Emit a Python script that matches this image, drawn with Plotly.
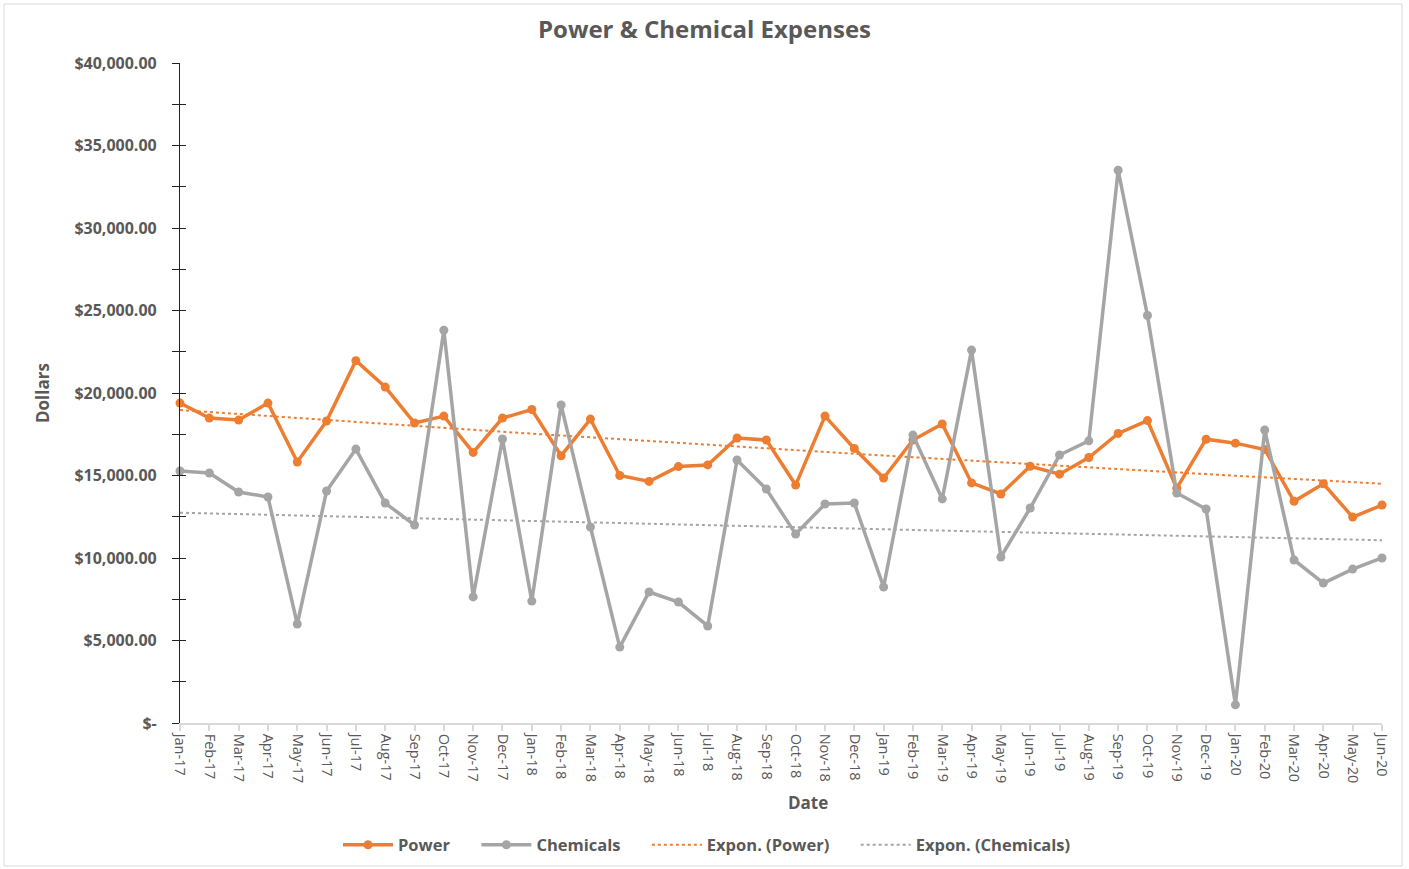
import numpy as np
import plotly.graph_objects as go

# Monthly expense data, Jan-2017 .. Jun-2020
months = [
    "Jan-17", "Feb-17", "Mar-17", "Apr-17", "May-17", "Jun-17", "Jul-17", "Aug-17",
    "Sep-17", "Oct-17", "Nov-17", "Dec-17", "Jan-18", "Feb-18", "Mar-18", "Apr-18",
    "May-18", "Jun-18", "Jul-18", "Aug-18", "Sep-18", "Oct-18", "Nov-18", "Dec-18",
    "Jan-19", "Feb-19", "Mar-19", "Apr-19", "May-19", "Jun-19", "Jul-19", "Aug-19",
    "Sep-19", "Oct-19", "Nov-19", "Dec-19", "Jan-20", "Feb-20", "Mar-20", "Apr-20",
    "May-20", "Jun-20",
]

power = [
    19390, 18480, 18360, 19390, 15820, 18300, 21960, 20360,
    18180, 18600, 16400, 18480, 19000, 16200, 18420, 15000,
    14640, 15540, 15640, 17270, 17150, 14420, 18600, 16640,
    14850, 17150, 18120, 14550, 13880, 15560, 15080, 16090,
    17550, 18330, 14230, 17200, 16960, 16580, 13440, 14500,
    12480, 13210,
]

chemicals = [
    15270, 15150, 14000, 13700, 6000, 14060, 16600, 13330,
    12000, 23800, 7640, 17210, 7390, 19270, 11880, 4600,
    7940, 7330, 5880, 15940, 14180, 11450, 13270, 13330,
    8240, 17450, 13580, 22600, 10060, 13030, 16240, 17100,
    33500, 24700, 13940, 12970, 1100, 17760, 9880, 8480,
    9330, 10000,
]

y_tick_values = [0, 5000, 10000, 15000, 20000, 25000, 30000, 35000, 40000]
y_tick_labels = ["$-", "$5,000.00", "$10,000.00", "$15,000.00", "$20,000.00",
                 "$25,000.00", "$30,000.00", "$35,000.00", "$40,000.00"]

ORANGE = "#ED7D31"
GREY = "#A5A5A5"
TEXT = "#595959"
FONT = "Open Sans"

# Figure / plot-area geometry in pixels
W, H = 1409, 869
L, R, T, B = 180, 1382, 63, 723

# trailing gap after each legend entry label
GAP = "\u00a0" * 5


def px_x(px):
    return (px - L) / (R - L)


def px_y(py):
    return (B - py) / (B - T)


def expon_trend(values):
    """Least-squares exponential trend y = a*exp(b*x), fitted on ln(y)."""
    x = np.arange(1, len(values) + 1)
    b, ln_a = np.polyfit(x, np.log(values), 1)
    return list(np.exp(ln_a) * np.exp(b * x))


power_trend = expon_trend(power)
chem_trend = expon_trend(chemicals)

fig = go.Figure()

fig.add_trace(go.Scatter(
    x=months, y=power, name="Power" + GAP, mode="lines+markers",
    line=dict(color=ORANGE, width=3.5), marker=dict(color=ORANGE, size=9),
    cliponaxis=False,
))
fig.add_trace(go.Scatter(
    x=months, y=chemicals, name="Chemicals" + GAP, mode="lines+markers",
    line=dict(color=GREY, width=3.5), marker=dict(color=GREY, size=9),
    cliponaxis=False,
))
fig.add_trace(go.Scatter(
    x=months, y=power_trend, name="Expon. (Power)" + GAP, mode="lines",
    line=dict(color=ORANGE, width=2, dash="dot"),
))
fig.add_trace(go.Scatter(
    x=months, y=chem_trend, name="Expon. (Chemicals)", mode="lines",
    line=dict(color=GREY, width=2, dash="dot"), yaxis="y2",
))

# Chart border
fig.add_shape(type="rect", xref="paper", yref="paper",
              x0=px_x(4), x1=px_x(1402), y0=px_y(866), y1=px_y(4),
              line=dict(color="#D9D9D9", width=1), layer="below")

fig.update_layout(
    width=W, height=H,
    margin=dict(l=L, r=W - R, t=T, b=H - B, autoexpand=False),
    paper_bgcolor="white", plot_bgcolor="white",
    font=dict(family=FONT, color=TEXT),
    title=dict(text="<b>Power &amp; Chemical Expenses</b>",
               x=0.5, xref="container", xanchor="center",
               y=1 - 30 / H, yref="container", yanchor="middle",
               font=dict(size=24, color=TEXT, family=FONT)),
    xaxis=dict(
        type="category", range=[0, len(months) - 1],
        showgrid=False, zeroline=False,
        showline=True, linecolor="#D9D9D9", linewidth=1.5,
        ticks="outside", ticklen=6, tickcolor="#D9D9D9", tickwidth=1.5,
        tickangle=90, tickfont=dict(size=14.5, color=TEXT, family=FONT),
        automargin=False,
    ),
    yaxis=dict(
        range=[0, 40000], tickvals=y_tick_values, ticktext=y_tick_labels,
        showgrid=False, zeroline=False,
        showline=True, linecolor="#222222", linewidth=1.2,
        ticks="outside", ticklen=7, tickcolor="#222222", tickwidth=1.2,
        minor=dict(dtick=2500, ticks="outside", ticklen=7,
                   tickcolor="#222222", tickwidth=1.2),
        tickfont=dict(size=16, color=TEXT, family=FONT, weight="bold"),
        ticklabelstandoff=12, automargin=False,
    ),
    yaxis2=dict(
        range=[0, 40000], overlaying="y", side="left", anchor="x",
        tickvals=y_tick_values, showticklabels=False,
        showgrid=False, zeroline=False, showline=False,
        ticks="inside", ticklen=6, tickcolor="#222222", tickwidth=1.2,
        minor=dict(dtick=2500, ticks="inside", ticklen=6,
                   tickcolor="#222222", tickwidth=1.2),
    ),
    legend=dict(
        orientation="h", x=px_x(707), xanchor="center",
        y=px_y(845), yanchor="middle", bgcolor="rgba(0,0,0,0)",
        font=dict(size=16.5, color=TEXT, family=FONT, weight="bold"),
        itemwidth=50, traceorder="normal",
    ),
    showlegend=True,
    annotations=[
        dict(text="<b>Date</b>", xref="paper", yref="paper",
             x=px_x(808), y=px_y(802), xanchor="center", yanchor="middle",
             showarrow=False, font=dict(size=17, color=TEXT, family=FONT)),
        dict(text="<b>Dollars</b>", xref="paper", yref="paper",
             x=px_x(42), y=px_y(393), xanchor="center", yanchor="middle",
             textangle=-90, showarrow=False,
             font=dict(size=17, color=TEXT, family=FONT)),
    ],
)

fig.write_html("out.html")
